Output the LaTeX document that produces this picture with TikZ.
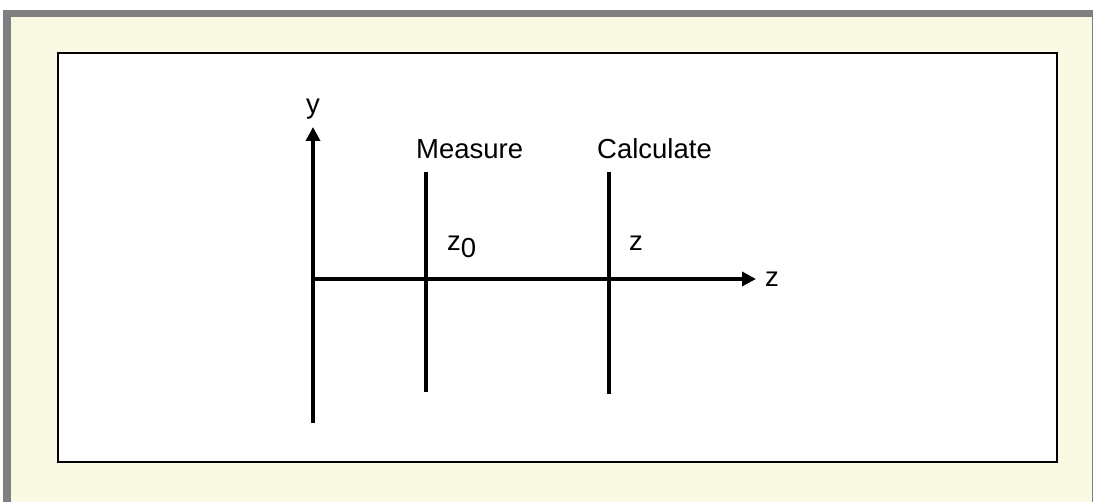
\documentclass[tikz,border=0pt]{standalone}
\usepackage{fontspec}
\setmainfont{Liberation Sans}
\usepackage{tikz}
\usetikzlibrary{arrows.meta,positioning}
\definecolor{framegray}{HTML}{7F7F7F}
\definecolor{pagecream}{HTML}{FAFAE4}

\begin{document}
\begin{tikzpicture}[
  x=1pt, y=-1pt,
  lbl/.style={inner sep=0pt, anchor=base west, font=\fontsize{27.5}{32}\selectfont},
  axis/.style={line width=3.8pt, -{Triangle[length=14pt,width=14pt]}},
  plane/.style={line width=3.2pt},
]
\useasboundingbox (0,0) rectangle (1093,502);

% page frame
\fill[framegray] (3,10) rectangle (1093,502);
\fill[pagecream] (11,17) rectangle (1092,502);
\draw[line width=1.5pt, fill=white] (58,53) rectangle (1057,462);

% axes
\coordinate (origin) at (313,279);
\coordinate (ybot) at (313,423);
\coordinate (ytop) at (313,127);
\coordinate (zend) at (756,279);
\draw[axis] (ybot) -- (ytop);
\draw[axis] (origin) -- (zend);

% measurement and calculation planes
\coordinate (mtop) at (426,172);
\coordinate (mbot) at (426,392);
\coordinate (ctop) at (609,172);
\coordinate (cbot) at (609,394);
\draw[plane] (mtop) -- (mbot);
\draw[plane] (ctop) -- (cbot);

% labels
\node[lbl, anchor=base] (ylab) at (313,114) {y};
\node[lbl] (zlab) at (765,287) {z};
\node[lbl] (meas) at (416,159) {Measure};
\node[lbl] (calc) at (597,159) {Calculate};
\node[lbl] (zzero) at (447,251) {z\raisebox{-7pt}{0}};
\node[lbl] (zcalc) at (629,251) {z};

\end{tikzpicture}
\end{document}
